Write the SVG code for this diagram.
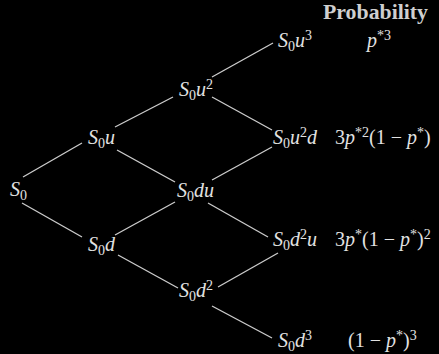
<svg xmlns="http://www.w3.org/2000/svg" width="439" height="354" viewBox="0 0 439 354">
<style>
text{font-family:"Liberation Serif","DejaVu Serif",serif;font-size:20px;fill:#e2e2e2}
.i{font-style:italic}
.s{font-size:14px;font-style:normal}
.hdr{font-weight:bold;font-size:21px;fill:#cfcfcf}
#connectors line{stroke:#cccccc;stroke-width:1.3}
</style>
<rect width="439" height="354" fill="#000"/>
<g id="connectors">
<line x1="23" y1="177" x2="82" y2="143"/>
<line x1="22" y1="203" x2="82" y2="237"/>
<line x1="115" y1="127" x2="173" y2="97"/>
<line x1="117" y1="150" x2="175" y2="182"/>
<line x1="115" y1="235" x2="175" y2="202"/>
<line x1="118" y1="255" x2="178" y2="288"/>
<line x1="212" y1="77" x2="273" y2="43"/>
<line x1="212" y1="97" x2="272" y2="130"/>
<line x1="212" y1="180" x2="272" y2="147"/>
<line x1="208" y1="203" x2="268" y2="237"/>
<line x1="218" y1="287" x2="278" y2="253"/>
<line x1="212" y1="306" x2="272" y2="338"/>
</g>
<g id="header"><text class="hdr" x="323" y="19" textLength="105" lengthAdjust="spacingAndGlyphs">Probability</text></g>
<g id="n-S0"><text x="10" y="196"><tspan class="i">S</tspan><tspan class="s" dy="4">0</tspan></text></g>
<g id="n-S0u"><text x="88" y="144"><tspan class="i">S</tspan><tspan class="s" dy="4">0</tspan><tspan class="i" dy="-4">u</tspan></text></g>
<g id="n-S0d"><text x="88" y="251"><tspan class="i">S</tspan><tspan class="s" dy="4">0</tspan><tspan class="i" dy="-4">d</tspan></text></g>
<g id="n-S0u2"><text x="179" y="96"><tspan class="i">S</tspan><tspan class="s" dy="4">0</tspan><tspan class="i" dy="-4">u</tspan><tspan class="s" dy="-7">2</tspan></text></g>
<g id="n-S0du"><text x="177" y="197"><tspan class="i">S</tspan><tspan class="s" dy="4">0</tspan><tspan class="i" dy="-4">du</tspan></text></g>
<g id="n-S0d2"><text x="179" y="297"><tspan class="i">S</tspan><tspan class="s" dy="4">0</tspan><tspan class="i" dy="-4">d</tspan><tspan class="s" dy="-7">2</tspan></text></g>
<g id="n-S0u3"><text x="278" y="47"><tspan class="i">S</tspan><tspan class="s" dy="4">0</tspan><tspan class="i" dy="-4">u</tspan><tspan class="s" dy="-7">3</tspan></text></g>
<g id="n-S0u2d"><text x="273" y="144"><tspan class="i">S</tspan><tspan class="s" dy="4">0</tspan><tspan class="i" dy="-4">u</tspan><tspan class="s" dy="-7">2</tspan><tspan class="i" dy="7">d</tspan></text></g>
<g id="n-S0d2u"><text x="273" y="246"><tspan class="i">S</tspan><tspan class="s" dy="4">0</tspan><tspan class="i" dy="-4">d</tspan><tspan class="s" dy="-7">2</tspan><tspan class="i" dy="7">u</tspan></text></g>
<g id="n-S0d3"><text x="278" y="347"><tspan class="i">S</tspan><tspan class="s" dy="4">0</tspan><tspan class="i" dy="-4">d</tspan><tspan class="s" dy="-7">3</tspan></text></g>
<g id="p-uuu"><text x="367" y="47"><tspan class="i">p</tspan><tspan class="s" dy="-7">*3</tspan></text></g>
<g id="p-uud"><text x="335" y="144">3<tspan class="i">p</tspan><tspan class="s" dy="-7">*2</tspan><tspan dy="7">(1 − </tspan><tspan class="i">p</tspan><tspan class="s" dy="-7">*</tspan><tspan dy="7">)</tspan></text></g>
<g id="p-udd"><text x="335" y="246">3<tspan class="i">p</tspan><tspan class="s" dy="-7">*</tspan><tspan dy="7">(1 − </tspan><tspan class="i">p</tspan><tspan class="s" dy="-7">*</tspan><tspan dy="7">)</tspan><tspan class="s" dy="-7">2</tspan></text></g>
<g id="p-ddd"><text x="348" y="347">(1 − <tspan class="i">p</tspan><tspan class="s" dy="-7">*</tspan><tspan dy="7">)</tspan><tspan class="s" dy="-7">3</tspan></text></g>
</svg>
